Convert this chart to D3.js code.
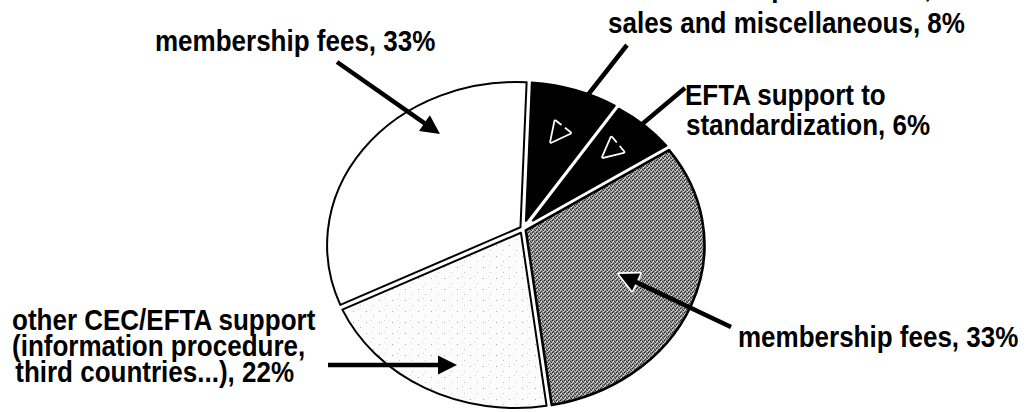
<!DOCTYPE html>
<html><head><meta charset="utf-8">
<script src="https://cdn.jsdelivr.net/npm/d3@7"></script>
<style>
body{margin:0;background:#fff;overflow:hidden}
text{font-family:"Liberation Sans",Arial,Helvetica,sans-serif;font-weight:bold;font-size:26px;fill:#000}
</style>
</head><body>
<svg id="chart" width="1031" height="412"></svg>
<script>
// ---- data ----
const categories = ["sales and miscellaneous", "EFTA support to standardization", "membership fees", "other CEC/EFTA support", "membership fees"];
const values = [8, 6, 33, 22, 33];
const labelLines = [
  ["income from publications,", "sales and miscellaneous, 8%"],
  ["EFTA support to", "standardization, 6%"],
  ["membership fees, 33%"],
  ["other CEC/EFTA support", "(information procedure,", " third countries...), 22%"],
  ["membership fees, 33%"]
];

// ---- layout / style ----
const C = {x: 516, y: 245}, RX = 189, RY = 163;
const V = {x: 523, y: 229};
const GAP = 2.6;
const fills = ["#000", "#000", "url(#dark)", "url(#light)", "#fff"];
const labelPos = [
  [[608, -3], [608, 33]],
  [[685, 105], [686, 135]],
  [[738, 347]],
  [[12, 330], [12, 356], [8, 382]],
  [[155, 51]]
];
const arrows = [
  {s: [627, 45], t: [551, 142]},
  {s: [685, 88], t: [603, 157]},
  {s: [731, 327], t: [619, 274]},
  {s: [328, 365], t: [457, 365]},
  {s: [337, 62], t: [440, 134]}
];

const svg = d3.select("#chart");
const defs = svg.append("defs");
const pd = defs.append("pattern").attr("id", "dark").attr("patternUnits", "userSpaceOnUse").attr("width", 4).attr("height", 4);
pd.append("rect").attr("width", 4).attr("height", 4).attr("fill", "#8e8e8e");
[[0,0,"#222"],[2,1,"#333"],[1,3,"#444"],[3,2,"#2a2a2a"],[1,1,"#e8e8e8"],[3,3,"#dcdcdc"],[0,2,"#cfcfcf"]].forEach(([x,y,c]) =>
  pd.append("rect").attr("x", x).attr("y", y).attr("width", 1).attr("height", 1).attr("fill", c));
const pl = defs.append("pattern").attr("id", "light").attr("patternUnits", "userSpaceOnUse").attr("width", 13).attr("height", 11);
pl.append("rect").attr("width", 13).attr("height", 11).attr("fill", "#fcfcfc");
[[2,3,"#a8a8a8"],[9,8,"#c4c4c4"],[7,1,"#d6d6d6"]].forEach(([x,y,c]) =>
  pl.append("rect").attr("x", x).attr("y", y).attr("width", 1).attr("height", 1).attr("fill", c));

const pie = d3.pie().sort(null).value(d => d).startAngle(0.07).endAngle(0.07 + 2 * Math.PI);
const arcs = pie(values);

function E(a) { return [C.x + RX * Math.sin(a), C.y - RY * Math.cos(a)]; }
function norm(v) { const l = Math.hypot(v[0], v[1]); return [v[0] / l, v[1] / l]; }
function intersect(p, d, q, e) {
  const den = d[0] * e[1] - d[1] * e[0];
  const t = ((q[0] - p[0]) * e[1] - (q[1] - p[1]) * e[0]) / den;
  return [p[0] + t * d[0], p[1] + t * d[1]];
}
function slicePath(d) {
  const P0 = E(d.startAngle), P1 = E(d.endAngle);
  const d0 = norm([P0[0] - V.x, P0[1] - V.y]), d1 = norm([P1[0] - V.x, P1[1] - V.y]);
  const n0 = [-d0[1], d0[0]], n1 = [d1[1], -d1[0]];
  const A = [V.x + n0[0] * GAP, V.y + n0[1] * GAP];
  const B = [V.x + n1[0] * GAP, V.y + n1[1] * GAP];
  const Vp = intersect(A, d0, B, d1);
  const Q0 = [P0[0] + n0[0] * GAP, P0[1] + n0[1] * GAP];
  const Q1 = [P1[0] + n1[0] * GAP, P1[1] + n1[1] * GAP];
  const large = (d.endAngle - d.startAngle) > Math.PI ? 1 : 0;
  const p = d3.path();
  p.moveTo(Vp[0], Vp[1]);
  p.lineTo(Q0[0], Q0[1]);
  return p.toString() + `A${RX},${RY} 0 ${large} 1 ${Q1[0]},${Q1[1]}Z`;
}

svg.append("g").selectAll("path").data(arcs).join("path")
  .attr("d", slicePath)
  .attr("fill", (d, i) => fills[i])
  .attr("stroke", "#000")
  .attr("stroke-width", (d, i) => i === 2 ? 2.6 : 2)
  .attr("stroke-linejoin", "round");

// arrows
const L = 19, HW = 9.5;
function head(a) {
  const u = norm([a.t[0] - a.s[0], a.t[1] - a.s[1]]);
  const n = [-u[1], u[0]];
  const b = [a.t[0] - u[0] * L, a.t[1] - u[1] * L];
  return [a.t, [b[0] + n[0] * HW, b[1] + n[1] * HW], [b[0] - n[0] * HW, b[1] - n[1] * HW]];
}
function lineEnd(a) {
  const u = norm([a.t[0] - a.s[0], a.t[1] - a.s[1]]);
  return [a.t[0] - u[0] * (L - 3), a.t[1] - u[1] * (L - 3)];
}
const ga = svg.append("g");
ga.selectAll("polygon.halo").data(arrows).join("polygon").attr("class", "halo")
  .attr("points", d => head(d).map(p => p.join(",")).join(" "))
  .attr("fill", "#fff").attr("stroke", "#fff").attr("stroke-width", 3.5).attr("stroke-linejoin", "round");
ga.selectAll("line").data(arrows).join("line")
  .attr("x1", d => d.s[0]).attr("y1", d => d.s[1])
  .attr("x2", d => lineEnd(d)[0]).attr("y2", d => lineEnd(d)[1])
  .attr("stroke", "#000").attr("stroke-width", 4.5);
ga.selectAll("polygon.hd").data(arrows).join("polygon").attr("class", "hd")
  .attr("points", d => head(d).map(p => p.join(",")).join(" "))
  .attr("fill", "#000");

// labels (slightly taller glyphs, as in the condensed original typeface)
const gl = svg.append("g");
labelLines.forEach((lines, i) => {
  lines.forEach((s, j) => {
    gl.append("text")
      .attr("transform", `translate(${labelPos[i][j][0]},${labelPos[i][j][1]}) scale(1,1.1)`)
      .attr("xml:space", "preserve").style("white-space", "pre").text(s);
  });
});
</script>
</body></html>
